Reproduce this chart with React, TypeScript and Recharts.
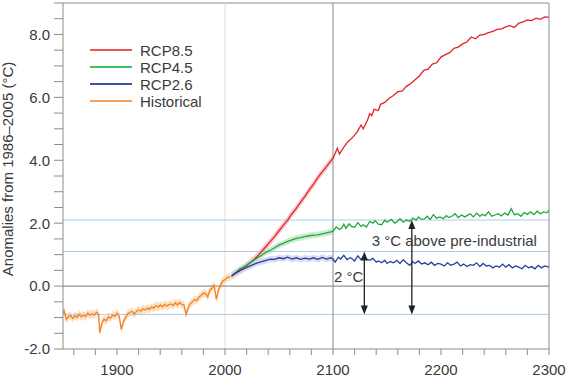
import React from "react";
import { ComposedChart, Line, Area, XAxis, YAxis, ReferenceLine, ReferenceDot } from "recharts";

// [year, anomaly °C]
const historical: [number, number][] = [
  [1850, -0.87], [1851, -0.78], [1853, -1.06], [1855, -0.97], [1857, -0.94], [1859, -1.03],
  [1861, -0.94], [1863, -0.99], [1865, -0.9], [1867, -0.98], [1869, -0.92], [1871, -0.97],
  [1873, -0.86], [1875, -0.93], [1877, -0.88], [1879, -0.92], [1881, -0.83], [1883, -0.9],
  [1884, -1.48], [1886, -1.18], [1888, -1.05], [1890, -1.1], [1892, -0.98], [1894, -1.02],
  [1896, -0.92], [1898, -0.96], [1900, -0.86], [1902, -0.95], [1904, -1.38], [1906, -1.12],
  [1908, -1.0], [1910, -0.88], [1912, -0.84], [1914, -0.8], [1916, -0.89], [1918, -0.8],
  [1920, -0.76], [1922, -0.8], [1924, -0.72], [1926, -0.76], [1928, -0.7], [1930, -0.74],
  [1932, -0.66], [1934, -0.7], [1936, -0.62], [1938, -0.67], [1940, -0.6], [1942, -0.66],
  [1944, -0.58], [1946, -0.63], [1948, -0.6], [1950, -0.57], [1952, -0.62], [1954, -0.53],
  [1956, -0.6], [1958, -0.52], [1960, -0.58], [1962, -0.6], [1964, -0.9], [1966, -0.68],
  [1968, -0.55], [1970, -0.5], [1972, -0.43], [1974, -0.46], [1976, -0.34], [1978, -0.3],
  [1980, -0.22], [1982, -0.24], [1984, -0.34], [1986, -0.12], [1988, -0.07], [1990, 0.03],
  [1992, -0.42], [1994, -0.12], [1996, 0.04], [1998, 0.16], [2000, 0.2], [2002, 0.27],
  [2005, 0.3],
];

const rcp85: [number, number][] = [
  [2006, 0.32], [2010, 0.42], [2014, 0.5], [2018, 0.58], [2022, 0.7], [2026, 0.82],
  [2030, 0.95], [2034, 1.1], [2038, 1.26], [2042, 1.42], [2046, 1.58], [2050, 1.76],
  [2054, 1.93], [2058, 2.1], [2062, 2.3], [2066, 2.47], [2070, 2.67], [2074, 2.85],
  [2078, 3.06], [2082, 3.24], [2086, 3.45], [2090, 3.63], [2094, 3.8], [2098, 3.98],
  [2100, 4.06], [2102, 4.22], [2104, 4.38], [2106, 4.2], [2110, 4.42], [2114, 4.6],
  [2118, 4.72], [2122, 4.88], [2126, 5.12], [2128, 5.0], [2132, 5.28], [2134, 5.48],
  [2136, 5.42], [2138, 5.62], [2142, 5.58], [2144, 5.78], [2148, 5.84], [2152, 5.97],
  [2156, 6.06], [2160, 6.18], [2164, 6.2], [2168, 6.35], [2172, 6.44], [2176, 6.56],
  [2180, 6.68], [2184, 6.86], [2188, 6.9], [2192, 7.06], [2196, 7.1], [2200, 7.28],
  [2204, 7.36], [2208, 7.42], [2212, 7.56], [2216, 7.6], [2220, 7.7], [2224, 7.76],
  [2228, 7.92], [2232, 7.86], [2236, 7.98], [2240, 8.0], [2244, 8.06], [2248, 8.1],
  [2252, 8.16], [2256, 8.18], [2260, 8.24], [2264, 8.28], [2268, 8.22], [2272, 8.36],
  [2276, 8.4], [2280, 8.46], [2284, 8.44], [2288, 8.52], [2292, 8.48], [2296, 8.56],
  [2300, 8.54],
];

const rcp45: [number, number][] = [
  [2006, 0.33], [2010, 0.42], [2014, 0.55], [2018, 0.62], [2022, 0.72], [2026, 0.8],
  [2030, 0.9], [2034, 0.98], [2038, 1.08], [2042, 1.14], [2046, 1.22], [2050, 1.3],
  [2054, 1.36], [2058, 1.42], [2062, 1.47], [2066, 1.52], [2070, 1.54], [2074, 1.57],
  [2078, 1.6], [2082, 1.62], [2086, 1.63], [2090, 1.66], [2094, 1.69], [2098, 1.72],
  [2100, 1.74], [2103, 1.88], [2106, 1.8], [2108, 1.84], [2110, 1.97], [2112, 1.84],
  [2115, 1.98], [2117, 1.9], [2120, 1.87], [2123, 2.02], [2126, 1.9], [2128, 1.95],
  [2131, 1.88], [2134, 2.06], [2137, 2.0], [2139, 2.08], [2142, 1.97], [2145, 1.95],
  [2148, 2.1], [2150, 2.03], [2154, 2.12], [2157, 2.0], [2159, 2.04], [2162, 2.14],
  [2165, 2.03], [2168, 2.1], [2171, 2.06], [2174, 2.16], [2177, 2.1], [2179, 2.2],
  [2182, 2.12], [2185, 2.14], [2187, 2.22], [2190, 2.12], [2193, 2.27], [2196, 2.16],
  [2199, 2.2], [2202, 2.14], [2205, 2.24], [2207, 2.18], [2210, 2.22], [2213, 2.3],
  [2216, 2.18], [2219, 2.26], [2222, 2.2], [2224, 2.24], [2227, 2.3], [2230, 2.2],
  [2233, 2.32], [2236, 2.22], [2238, 2.28], [2241, 2.24], [2244, 2.36], [2247, 2.22],
  [2250, 2.26], [2253, 2.3], [2256, 2.23], [2259, 2.32], [2262, 2.26], [2265, 2.46],
  [2268, 2.27], [2271, 2.3], [2274, 2.22], [2277, 2.34], [2280, 2.28], [2283, 2.36],
  [2286, 2.27], [2289, 2.38], [2292, 2.3], [2295, 2.36], [2298, 2.33], [2300, 2.42],
];

const rcp26: [number, number][] = [
  [2006, 0.32], [2010, 0.42], [2014, 0.5], [2018, 0.56], [2022, 0.62], [2026, 0.68],
  [2030, 0.74], [2034, 0.78], [2038, 0.82], [2042, 0.86], [2046, 0.85], [2050, 0.9],
  [2054, 0.87], [2058, 0.92], [2062, 0.86], [2066, 0.9], [2070, 0.85], [2074, 0.89],
  [2078, 0.86], [2082, 0.9], [2086, 0.85], [2090, 0.91], [2094, 0.86], [2098, 0.9],
  [2100, 0.86], [2102, 0.76], [2105, 0.92], [2107, 0.86], [2110, 0.98], [2113, 0.84],
  [2116, 0.9], [2118, 0.86], [2120, 0.8], [2123, 0.96], [2126, 0.84], [2129, 0.98],
  [2131, 0.86], [2134, 0.82], [2137, 0.88], [2140, 0.76], [2142, 0.8], [2145, 0.74],
  [2148, 0.82], [2150, 0.72], [2153, 0.78], [2156, 0.74], [2159, 0.82], [2162, 0.72],
  [2165, 0.84], [2168, 0.74], [2171, 0.66], [2174, 0.78], [2176, 0.72], [2179, 0.8],
  [2182, 0.7], [2185, 0.74], [2188, 0.68], [2191, 0.76], [2194, 0.66], [2197, 0.72],
  [2200, 0.7], [2203, 0.64], [2206, 0.74], [2209, 0.66], [2212, 0.7], [2215, 0.76],
  [2218, 0.64], [2221, 0.7], [2224, 0.62], [2227, 0.68], [2230, 0.66], [2233, 0.74],
  [2236, 0.62], [2239, 0.72], [2242, 0.64], [2245, 0.66], [2248, 0.58], [2251, 0.64],
  [2254, 0.6], [2257, 0.7], [2260, 0.6], [2263, 0.68], [2266, 0.58], [2269, 0.64],
  [2272, 0.6], [2275, 0.55], [2278, 0.66], [2281, 0.58], [2284, 0.62], [2287, 0.55],
  [2290, 0.66], [2293, 0.58], [2296, 0.64], [2300, 0.6],
];

const xTicks = [1860, 1880, 1900, 1920, 1940, 1960, 1980, 2000, 2020, 2040, 2060, 2080, 2100,
  2120, 2140, 2160, 2180, 2200, 2220, 2240, 2260, 2280, 2300];
const yTicks = [-2, -1.5, -1, -0.5, 0, 0.5, 1, 1.5, 2, 2.5, 3, 3.5, 4, 4.5, 5, 5.5, 6, 6.5, 7, 7.5, 8, 8.5, 9];

// pre-industrial, +2 °C and +3 °C levels
const levelLines = [-0.9, 1.1, 2.1];

const series = [
  { name: "RCP8.5", data: rcp85, color: "#e8202a", legend: "#ec5458", band: "#f6b9bc", spread: 0.12 },
  { name: "RCP4.5", data: rcp45, color: "#1ea83e", legend: "#3fc062", band: "#bfe3c2", spread: 0.1 },
  { name: "RCP2.6", data: rcp26, color: "#2a3f9b", legend: "#3b52a8", band: "#cfd0ef", spread: 0.1 },
  { name: "Historical", data: historical, color: "#f58220", legend: "#f7a055", band: "#f9d6b0", spread: 0.13 },
];

const FONT = "'Liberation Sans', Arial, sans-serif";
const TXT = "#3a3a3a";

const toPoints = (arr: [number, number][]) => arr.map(([year, v]) => ({ year, v }));
const toBand = (arr: [number, number][], s: number) =>
  arr.filter(([year]) => year <= 2100).map(([year, v]) => ({ year, band: [v - s, v + s] }));

const arrowShape = (p: any) => {
  const { x1, y1, x2, y2 } = p;
  const lo = Math.max(y1, y2);
  const hi = Math.min(y1, y2);
  return (
    <g>
      <line x1={x1} y1={lo - 6} x2={x2} y2={hi + 6} stroke="#222" strokeWidth={1.3} />
      <path d={`M${x1 - 3.5},${lo - 9} L${x1 + 3.5},${lo - 9} L${x1},${lo} Z`} fill="#222" />
      <path d={`M${x1 - 3.5},${hi + 9} L${x1 + 3.5},${hi + 9} L${x1},${hi} Z`} fill="#222" />
    </g>
  );
};

const textShape = (label: string) => (p: any) => (
  <text x={p.cx} y={p.cy} fontSize={15} fill={TXT} fontFamily={FONT} textAnchor="start">
    {label}
  </text>
);

export default function App() {
  return (
    <div style={{ position: "absolute", left: 0, top: 0, width: 572, height: 378, background: "#fff" }}>
      <ComposedChart width={572} height={378} margin={{ top: 3, right: 23, bottom: 0, left: 0 }}>
        <XAxis
          type="number"
          dataKey="year"
          domain={[1850, 2300]}
          ticks={xTicks}
          interval={0}
          allowDataOverflow
          height={29}
          tickSize={6}
          tickMargin={9}
          stroke="#8c8c8c"
          tick={{ fontSize: 15, fill: TXT, fontFamily: FONT }}
          tickFormatter={(v: number) => (v % 100 === 0 ? String(v) : "")}
        />
        <YAxis
          type="number"
          domain={[-2, 9]}
          ticks={yTicks}
          interval={0}
          allowDataOverflow
          width={63}
          tickSize={9}
          tickMargin={4}
          stroke="#8c8c8c"
          tick={{ fontSize: 15, fill: TXT, fontFamily: FONT }}
          tickFormatter={(v: number) => (Number.isInteger(v) && v % 2 === 0 ? v.toFixed(1) : "")}
          label={{
            content: () => (
              <text x={13} y={169} transform="rotate(-90, 13, 169)" textAnchor="middle" fontSize={15} fill={TXT} fontFamily={FONT}>
                Anomalies from 1986–2005 (°C)
              </text>
            ),
          }}
        />

        <ReferenceLine y={9} stroke="#8c8c8c" />
        <ReferenceLine x={2300} stroke="#8c8c8c" />
        <ReferenceLine x={2000} stroke="#e6dccf" />
        {levelLines.map((l) => (
          <ReferenceLine key={l} y={l} stroke="#a8cde8" strokeWidth={1} />
        ))}
        <ReferenceLine y={0} stroke="#777" />
        <ReferenceLine x={2100} stroke="#8a8a8a" />

        {series.map((s) => (
          <Area
            key={s.name + "-band"}
            data={toBand(s.data, s.spread)}
            dataKey="band"
            type="linear"
            stroke="none"
            fill={s.band}
            fillOpacity={0.75}
            isAnimationActive={false}
            legendType="none"
          />
        ))}
        {series.map((s) => (
          <Line
            key={s.name}
            data={toPoints(s.data)}
            dataKey="v"
            name={s.name}
            type="linear"
            stroke={s.color}
            strokeWidth={1.3}
            dot={false}
            isAnimationActive={false}
          />
        ))}

        <ReferenceLine segment={[{ x: 2129, y: -0.9 }, { x: 2129, y: 1.1 }]} shape={arrowShape} />
        <ReferenceLine segment={[{ x: 2173, y: -0.9 }, { x: 2173, y: 2.1 }]} shape={arrowShape} />
        <ReferenceDot x={2100.9} y={0.14} r={0} shape={textShape("2 °C")} />
        <ReferenceDot x={2135.8} y={1.28} r={0} shape={textShape("3 °C above pre-industrial")} />
      </ComposedChart>

      <div style={{ position: "absolute", left: 90, top: 41.5, fontFamily: FONT, fontSize: 15, color: TXT }}>
        {series.map((s) => (
          <div key={s.name} style={{ display: "flex", alignItems: "center", height: 17 }}>
            <span style={{ display: "inline-block", width: 42, height: 2, background: s.legend, marginRight: 8 }} />
            <span>{s.name}</span>
          </div>
        ))}
      </div>
    </div>
  );
}
